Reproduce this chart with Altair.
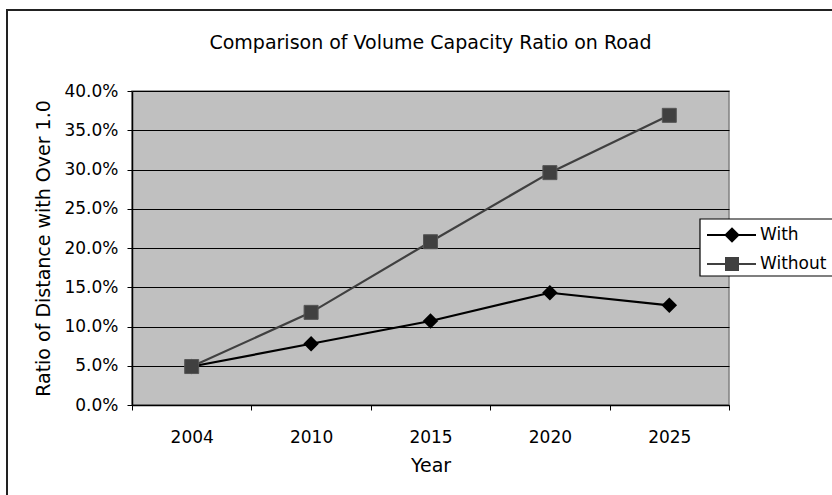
import altair as alt
import pandas as pd

# Share of road distance with a volume/capacity ratio above 1.0
years = ["2004", "2010", "2015", "2020", "2025"]
with_project = [0.049, 0.078, 0.107, 0.143, 0.127]
without_project = [0.049, 0.118, 0.208, 0.296, 0.369]
series_names = ["With", "Without"]
y_ticks = [0.0, 0.05, 0.10, 0.15, 0.20, 0.25, 0.30, 0.35, 0.40]

rows = []
for yr, v in zip(years, with_project):
    rows.append({"Year": yr, "Series": "With", "Ratio": v})
for yr, v in zip(years, without_project):
    rows.append({"Year": yr, "Series": "Without", "Ratio": v})
df = pd.DataFrame(rows)
legend_df = pd.DataFrame({"Series": series_names})

FONT = "DejaVu Sans"
series_colors = ["#000000", "#404040"]
color_scale = alt.Scale(domain=series_names, range=series_colors)

x_enc = alt.X(
    "Year:N",
    sort=years,
    title="Year",
    scale=alt.Scale(paddingInner=0, paddingOuter=0),
    axis=alt.Axis(
        tickBand="extent",
        labelAngle=0,
        tickSize=5,
        tickColor="#000000",
        domainColor="#000000",
        domainWidth=1.5,
        labelPadding=19,
        titlePadding=11,
        grid=False,
    ),
)
y_enc = alt.Y(
    "Ratio:Q",
    title="Ratio of Distance with Over 1.0",
    scale=alt.Scale(domain=[0, 0.40], nice=False, zero=True),
    axis=alt.Axis(
        values=y_ticks,
        format=".1%",
        labelOverlap=False,
        tickSize=5,
        tickColor="#000000",
        domainColor="#000000",
        domainWidth=1.5,
        gridColor="#000000",
        gridWidth=1,
        labelPadding=9,
        titlePadding=10,
    ),
)

base = alt.Chart(df).encode(x=x_enc, y=y_enc)

lines = base.mark_line(strokeWidth=2.2).encode(
    color=alt.Color("Series:N", scale=color_scale, legend=None),
)

with_pts = base.transform_filter(alt.datum.Series == "With").mark_point(
    shape="diamond", filled=True, size=240, color="#000000", opacity=1
)

without_pts = base.transform_filter(alt.datum.Series == "Without").mark_point(
    shape="square", filled=True, size=196, color="#404040", opacity=1,
    stroke="#555555", strokeWidth=1
)

plot = alt.layer(lines, with_pts, without_pts)

# Key box on the right edge of the plot: line sample, marker and name per series
key_y = alt.Y(
    "Series:N",
    scale=alt.Scale(domain=series_names, range=[129.5, 187.5]),
    axis=None,
)
key_base = alt.Chart(legend_df)
key_box = alt.Chart(pd.DataFrame({"k": [0]})).mark_rect(
    fill="#ffffff", stroke="#000000", strokeWidth=1.2
).encode(
    x=alt.value(568), x2=alt.value(730),
    y=alt.value(128), y2=alt.value(185),
)
key_lines = key_base.mark_rule(strokeWidth=2.2).encode(
    x=alt.value(575), x2=alt.value(624), y=key_y,
    color=alt.Color("Series:N", scale=color_scale, legend=None),
)
key_marks = key_base.mark_point(filled=True, opacity=1).encode(
    x=alt.value(600), y=key_y,
    color=alt.Color("Series:N", scale=color_scale, legend=None),
    shape=alt.Shape(
        "Series:N",
        scale=alt.Scale(domain=series_names, range=["diamond", "square"]),
        legend=None,
    ),
    size=alt.Size(
        "Series:N",
        scale=alt.Scale(domain=series_names, range=[240, 196]),
        legend=None,
    ),
)
key_text = key_base.mark_text(
    align="left", baseline="middle", font=FONT, fontSize=17, color="#000000"
).encode(x=alt.value(628), y=key_y, text="Series:N")
key = alt.layer(key_box, key_lines, key_marks, key_text)

# Outer chart-area border
frame = alt.Chart(pd.DataFrame({"k": [0]})).mark_rect(
    fill=None, stroke="#222222", strokeWidth=2
).encode(
    x=alt.value(-125), x2=alt.value(712),
    y=alt.value(-81), y2=alt.value(416),
)

chart = alt.layer(frame, plot, key).resolve_scale(y="independent").properties(
    width=597,
    height=314,
    autosize=alt.AutoSizeParams(type="none"),
    padding={"left": 132, "top": 91, "right": 103, "bottom": 90},
    title=alt.TitleParams(
        "Comparison of Volume Capacity Ratio on Road",
        anchor="middle",
        frame="group",
        fontSize=19,
        fontWeight="normal",
        font=FONT,
        color="#000000",
        offset=0,
        dy=44,
    ),
).configure(
    font=FONT,
    background="#ffffff",
).configure_view(
    fill="#c0c0c0",
    stroke="#808080",
    strokeWidth=1.5,
).configure_axis(
    labelFont=FONT,
    titleFont=FONT,
    labelFontSize=17,
    titleFontSize=19,
    labelColor="#000000",
    titleColor="#000000",
    titleFontWeight="normal",
)

chart.save("out.html", embed_options={"renderer": "svg", "actions": False})
